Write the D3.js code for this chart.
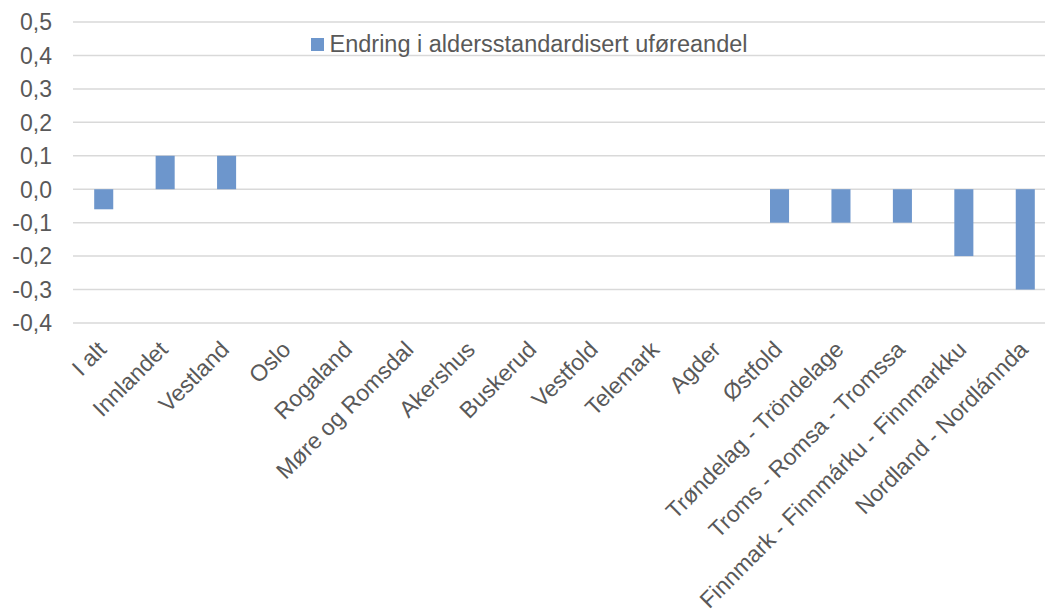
<!DOCTYPE html>
<html><head><meta charset="utf-8">
<script src="https://cdn.jsdelivr.net/npm/d3@7"></script>
<style>body{margin:0;background:#fff;} svg{display:block;} text{font-family:"Liberation Sans",Arial,sans-serif;fill:#595959;}</style>
</head><body><svg id="c" width="1045" height="615"></svg>
<script>
const categories = ["I alt","Innlandet","Vestland","Oslo","Rogaland","Møre og Romsdal","Akershus","Buskerud","Vestfold","Telemark","Agder","Østfold","Trøndelag - Tröndelage","Troms - Romsa - Tromssa","Finnmark - Finnmárku - Finnmarkku","Nordland - Nordlánnda"];
const values = [-0.06,0.1,0.1,0,0,0,0,0,0,0,0,-0.1,-0.1,-0.1,-0.2,-0.3];
const seriesName = "Endring i aldersstandardisert uføreandel";
const yTicks = [-0.4,-0.3,-0.2,-0.1,0,0.1,0.2,0.3,0.4,0.5];

const svg = d3.select("#c");
const x = d3.scaleBand().domain(categories).range([73, 1056]).paddingInner(0.69).paddingOuter(0.345);
const y = d3.scaleLinear().domain([-0.4,0.5]).range([323, 22]);
const fmt = v => d3.format(".1f")(v).replace(".", ",").replace("−","-");

svg.append("g").selectAll("line").data(yTicks).join("line")
  .attr("x1",73).attr("x2",1056).attr("y1",d=>y(d)).attr("y2",d=>y(d))
  .attr("stroke","#d9d9d9").attr("stroke-width",1.5);

svg.append("g").selectAll("text").data(yTicks).join("text")
  .attr("x",52).attr("y",d=>y(d)).attr("dy","0.36em").attr("text-anchor","end")
  .attr("font-size",23).text(fmt);

svg.append("g").selectAll("rect").data(values).join("rect")
  .attr("x",(d,i)=>x(categories[i])).attr("width",x.bandwidth())
  .attr("y",d=>y(Math.max(0,d))).attr("height",d=>Math.abs(y(d)-y(0)))
  .attr("fill","#6d96cc");

svg.append("g").selectAll("text").data(categories).join("text")
  .attr("transform",d=>`translate(${x(d)+x.bandwidth()/2+4},351) rotate(-45)`)
  .attr("text-anchor","end").attr("font-size",23).text(d=>d);

const lg = svg.append("g");
lg.append("rect").attr("x",311).attr("y",38).attr("width",13).attr("height",13).attr("fill","#6d96cc");
lg.append("text").attr("x",329.5).attr("y",51.5).attr("font-size",23.5).text(seriesName);
</script></body></html>
